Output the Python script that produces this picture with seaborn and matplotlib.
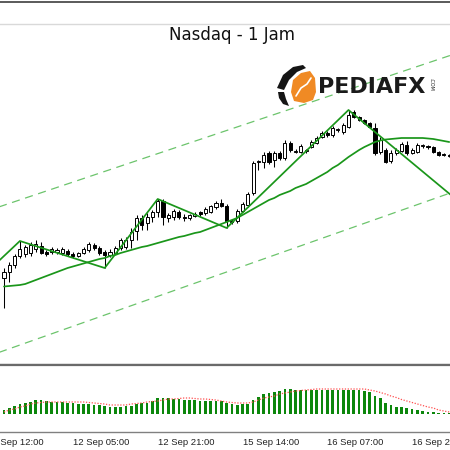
import matplotlib
matplotlib.use("Agg")
import matplotlib.pyplot as plt
import matplotlib.transforms as mtransforms
from matplotlib.patches import Polygon
from matplotlib.lines import Line2D
import numpy as np
import seaborn as sns

sns.set_style("white")
plt.rcParams["font.family"] = ["DejaVu Sans"]

# hourly candles (price units, no scale shown on the chart)
opens = [222, 228, 235, 244, 246, 247, 251, 254, 248, 248,
         248, 247, 249, 246, 244, 247, 250, 255, 252, 248,
         245, 247, 252, 253, 260, 269, 282, 277, 283, 288,
         299, 282, 283, 288, 283, 282, 284, 288, 287, 288,
         293, 297, 294, 278, 279, 289, 295, 307, 338, 338,
         347, 340, 347, 342, 357, 348, 348, 349, 353, 357,
         363, 367, 365, 370, 368, 373, 388, 383, 380, 377,
         372, 348, 350, 339, 347, 349, 355, 347, 348, 354,
         353.5, 353, 348, 346, 345]
closes = [228, 235, 244, 251, 253, 255, 256, 247, 246, 251,
          250, 251, 246, 244, 247, 251, 256, 252, 247, 245,
          248, 252, 260, 260, 268, 282, 275, 283, 288, 299,
          283, 285, 289, 283, 282, 285, 286, 286, 291, 294,
          297, 294, 279, 279, 289, 296, 306, 337, 339, 345,
          338, 347, 342, 357, 350, 349, 354, 350, 358, 362,
          367, 365, 372, 371, 375, 385, 383, 380, 377, 373,
          347, 360, 338, 347, 350, 356, 347, 350, 355, 355,
          353, 348, 345, 345, 344]
highs = [232, 238, 246, 259, 255, 258, 260, 258, 250, 253,
         252, 253, 251, 248, 248, 253, 258, 257, 254, 250,
         251, 254, 262, 263, 272, 285, 285, 287, 290, 301,
         301, 287, 291, 290, 286, 286, 288, 289, 293, 295,
         299, 301, 296, 281, 291, 298, 308, 339, 340, 348,
         349, 349, 349, 360, 359, 351, 356, 351, 360, 364,
         369, 369, 374, 372, 377, 390, 390, 384, 381, 378,
         377, 363, 352, 350, 352, 358, 359, 352, 357, 356,
         355, 354, 349, 347, 346]
lows = [192, 218, 232, 242, 243, 244, 248, 246, 244, 246,
        246, 245, 244, 242, 243, 246, 248, 250, 245, 232,
        243, 246, 250, 251, 252, 260, 270, 270, 278, 283,
        275, 278, 280, 281, 279, 280, 283, 284, 285, 287,
        291, 293, 272, 276, 277, 288, 293, 305, 330, 332,
        336, 333, 340, 340, 348, 347, 347, 347, 352, 356,
        362, 363, 363, 368, 366, 372, 382, 379, 376, 372,
        345, 346, 337, 337, 345, 348, 345, 346, 347, 352,
        351, 347, 344, 344, 343]

# moving average
ma_vals = [213.5, 214, 214.5, 215, 216, 218, 220, 222, 224, 226,
           228, 230, 232, 233.5, 235, 236.5, 238, 239.5, 241, 242,
           244, 245, 247, 248.5, 250, 251.5, 253, 254, 255.5, 257,
           258.5, 260, 261.5, 263, 264, 265.5, 267, 268, 270, 272,
           274, 276, 278, 280, 282, 285, 288, 291, 294, 297,
           300, 302, 305, 307, 309, 312, 314, 316, 319, 322,
           325, 328, 332, 335, 339, 343, 346.5, 350, 353, 355.5,
           358, 359.5, 360.5, 361, 361.5, 362, 362, 362, 362, 362,
           361.5, 361, 360, 359, 358]

# zigzag pivots and channel lines
zz_idx = [-2, 3, 19, 29, 42, 65, 85]
zz_val = [234, 259, 232, 301, 272, 390, 302]
upper_idx = [-1, 85]
upper_val = [293, 446]
lower_idx = [-1, 85]
lower_val = [147.5, 308.5]

# lower panel: histogram and signal
hist_vals = [4, 6, 8, 10, 11, 12, 14, 14, 13, 12,
             12, 12, 11, 11, 10, 10, 10, 9, 9, 8,
             7, 7, 7, 8, 8, 10, 11, 11, 13, 16,
             16, 16, 15, 15, 14, 14, 14, 13, 13, 13,
             13, 13, 11, 10, 9, 10, 10, 14, 17, 20,
             21, 22, 23, 25, 25, 24, 24, 24, 24, 24,
             24, 24, 24, 24, 24, 24, 24, 24, 23, 22,
             18, 16, 11, 9, 7, 7, 6, 5, 4, 3,
             2, 2, 1, 1, 1]
signal_vals = [2, 4, 5, 7, 8, 10, 11, 11.5, 12, 12,
               12, 12, 12, 12, 12, 12, 11.5, 11, 10.5, 10,
               9, 9, 9, 9, 10, 10.5, 11, 12, 12.5, 13,
               14, 15, 15, 15.5, 16, 16, 15.5, 15, 15, 14.5,
               14, 13, 12, 11.5, 11, 11, 11, 12, 14, 16,
               17, 18, 20, 21, 22, 23, 23.5, 24, 24.5, 25,
               25, 25, 25, 25, 25, 25, 25, 25, 25, 24,
               23, 21.5, 20, 18, 16.5, 14.5, 13, 11.5, 10, 8.5,
               7, 6, 4, 3, 2]

tick_idx = [-3, 13, 29, 45, 61, 77]
tick_labels = ["11 Sep 12:00", "12 Sep 05:00", "12 Sep 21:00",
               "15 Sep 14:00", "16 Sep 07:00", "16 Sep 23:00"]

GREEN = "#1a961a"
XLIM = (-0.755, 84.15)

fig = plt.figure(figsize=(4.5, 4.5), dpi=100)
ax = fig.add_axes([0, 85 / 450, 1, 341 / 450])
ax2 = fig.add_axes([0, 18 / 450, 1, 67 / 450])

idx = np.arange(len(opens))
o = np.array(opens, dtype=float)
c = np.array(closes, dtype=float)
up = c >= o
body_lo = np.minimum(o, c)
body_h = np.maximum(np.abs(c - o), 0.8)

ax.vlines(idx, lows, highs, color="black", lw=0.75, zorder=2)
ax.bar(idx[up], body_h[up], bottom=body_lo[up], width=0.58, color="white",
       edgecolor="black", linewidth=0.7, zorder=3)
ax.bar(idx[~up], body_h[~up], bottom=body_lo[~up], width=0.58, color="black",
       edgecolor="black", linewidth=0.7, zorder=3)

sns.lineplot(x=upper_idx, y=upper_val, ax=ax, color="#6cc46c", lw=0.9,
             linestyle=(0, (6.5, 4.5)), zorder=1)
sns.lineplot(x=lower_idx, y=lower_val, ax=ax, color="#6cc46c", lw=0.9,
             linestyle=(0, (6.5, 4.5)), zorder=1)
sns.lineplot(x=idx, y=ma_vals, ax=ax, color=GREEN, lw=1.25, zorder=4)
sns.lineplot(x=zz_idx, y=zz_val, ax=ax, color=GREEN, lw=1.25, zorder=4, sort=False)

ax.set_xlim(*XLIM)
ax.set_ylim(135, 476)
ax.set_xticks([])
ax.set_yticks([])
ax.set_xlabel("")
ax.set_ylabel("")
ax.spines["left"].set_visible(False)
ax.spines["right"].set_visible(False)
ax.spines["top"].set_color("#d9d9d9")
ax.spines["top"].set_linewidth(1)
ax.spines["bottom"].set_color("#6a6a6a")
ax.spines["bottom"].set_linewidth(1.6)

# lower panel
ax2.bar(idx, hist_vals, width=0.5, color="#0c870c", linewidth=0, zorder=2)
sns.lineplot(x=idx, y=signal_vals, ax=ax2, color="#ff5050", lw=0.9,
             linestyle=(0, (1, 1.3)), zorder=3)
ax2.set_xlim(*XLIM)
ax2.set_ylim(-18, 49)
ax2.set_yticks([])
ax2.set_ylabel("")
ax2.set_xticks(tick_idx[1:])
ax2.set_xticklabels(tick_labels[1:], ha="left", fontsize=6.8,
                    family="Liberation Sans", color="#222222")
ax2.tick_params(axis="x", length=2.2, width=0.8, color="#777777", pad=2)
trans = mtransforms.offset_copy(ax2.get_xaxis_transform(), fig=fig,
                                y=-4.2, units="points")
ax2.text(tick_idx[0], 0, tick_labels[0], transform=trans, ha="left", va="top",
         fontsize=6.8, family="Liberation Sans", color="#222222", clip_on=False)
ax2.spines["left"].set_visible(False)
ax2.spines["right"].set_visible(False)
ax2.spines["top"].set_color("#6a6a6a")
ax2.spines["top"].set_linewidth(1.6)
ax2.spines["bottom"].set_color("#808080")
ax2.spines["bottom"].set_linewidth(1)

# frame line at the very top
fig.add_artist(Line2D([0, 1], [1 - 1.5 / 450] * 2, transform=fig.transFigure,
                      color="#5a5a5a", lw=1.4))

# overlay in pixel coords for title and watermark logo
ov = fig.add_axes([0, 0, 1, 1], zorder=10)
ov.set_xlim(0, 450)
ov.set_ylim(450, 0)
ov.axis("off")
ov.patch.set_alpha(0)
ov.text(232, 39.5, "Nasdaq - 1 Jam", ha="center", va="baseline",
        fontsize=12, color="#111111")

ov.add_patch(Polygon([(277, 88), (283, 75), (293, 67), (303, 65), (306, 68),
                      (297, 72), (289, 80), (284, 90)], closed=True,
                     color="#151515", lw=0))
ov.add_patch(Polygon([(278, 92), (284, 92), (286, 99), (289, 106), (283, 104),
                      (279, 98)], closed=True, color="#151515", lw=0))
ov.add_patch(Polygon([(293, 80), (301, 73), (310, 71), (315, 78), (316, 92),
                      (313, 100), (304, 103), (294, 101), (291, 92)],
                     closed=True, color="#f08a24", lw=0))
ov.plot([296, 301, 307, 311], [96, 88, 84, 78], color="white", lw=1.2)
ov.text(318, 93, "PEDIAFX", ha="left", va="baseline", fontsize=16,
        fontweight="bold", color="#1a1a1a")
ov.text(431, 84, ".COM", ha="center", va="center", rotation=-90,
        fontsize=3.5, color="#1a1a1a")

fig.savefig("out.png", dpi=100)
